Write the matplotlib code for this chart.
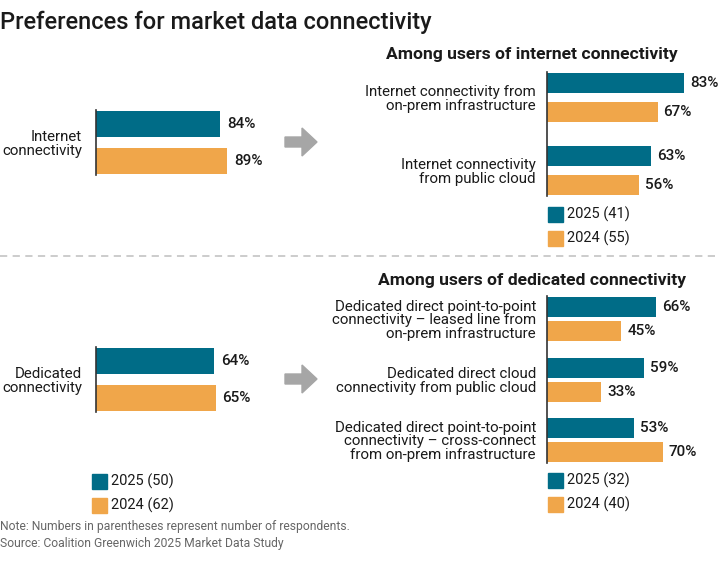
import matplotlib
matplotlib.use("Agg")
import matplotlib.pyplot as plt
from matplotlib.patches import Rectangle, Polygon
from matplotlib.lines import Line2D

plt.rcParams['font.family'] = ['Roboto', 'DejaVu Sans']

# ---------------- data ----------------
title = "Preferences for market data connectivity"

tl_categories = ["Internet\nconnectivity"]
tl_2025 = [84]
tl_2024 = [89]
tl_legend = ["2025 (50)", "2024 (62)"]

tr_title = "Among users of internet connectivity"
tr_categories = ["Internet connectivity from\non-prem infrastructure",
                 "Internet connectivity\nfrom public cloud"]
tr_2025 = [83, 63]
tr_2024 = [67, 56]
tr_legend = ["2025 (41)", "2024 (55)"]

bl_categories = ["Dedicated\nconnectivity"]
bl_2025 = [64]
bl_2024 = [65]
bl_legend = ["2025 (50)", "2024 (62)"]

br_title = "Among users of dedicated connectivity"
br_categories = ["Dedicated direct point-to-point\nconnectivity \u2013 leased line from\non-prem infrastructure",
                 "Dedicated direct cloud\nconnectivity from public cloud",
                 "Dedicated direct point-to-point\nconnectivity \u2013 cross-connect\nfrom on-prem infrastructure"]
br_2025 = [66, 59, 53]
br_2024 = [45, 33, 70]
br_legend = ["2025 (32)", "2024 (40)"]

note_lines = ["Note: Numbers in parentheses represent number of respondents.",
              "Source: Coalition Greenwich 2025 Market Data Study"]

TEAL = "#006C87"
ORANGE = "#F0A64A"
TXT = "#1a1a1a"

W, H = 720, 561
fig = plt.figure(figsize=(W / 100, H / 100), dpi=100)


def fx(x):
    return x / W


def fy(y):
    return 1 - y / H


def panel(cats, v25, v24, axis_x, first_top, bar_h, pair, pitch, scale,
          label_pad, val_off, width_px, fs=10.8):
    n = len(cats)
    last_bottom = first_top + (n - 1) * pitch + pair + bar_h
    top = first_top - 1
    bottom = last_bottom + 1
    ax = fig.add_axes([fx(axis_x), fy(bottom), width_px / W, (bottom - top) / H])
    ax.set_xlim(0, width_px / scale)
    ax.set_ylim(bottom - first_top, top - first_top)
    ys25 = [g * pitch + bar_h / 2 for g in range(n)]
    ys24 = [g * pitch + pair + bar_h / 2 for g in range(n)]
    ax.barh(ys25, v25, height=bar_h, color=TEAL)
    ax.barh(ys24, v24, height=bar_h, color=ORANGE)
    for y, v in list(zip(ys25, v25)) + list(zip(ys24, v24)):
        ax.text(v + val_off / scale, y, f"{v}%", va='center', ha='left',
                fontsize=11, fontweight='medium', color=TXT)
    ax.set_yticks([g * pitch + pair / 2 + bar_h / 2 for g in range(n)])
    ax.set_yticklabels(cats, fontsize=fs, color=TXT, linespacing=0.98)
    ax.tick_params(axis='y', length=0, pad=label_pad)
    ax.set_xticks([])
    for s in ['top', 'right', 'bottom']:
        ax.spines[s].set_visible(False)
    ax.spines['left'].set_color('#333333')
    ax.spines['left'].set_linewidth(1.2)
    ax.set_facecolor('none')
    return ax


def legend(x, y, labels, pitch=23.5):
    for i, (lab, col) in enumerate(zip(labels, [TEAL, ORANGE])):
        yy = y + i * pitch
        fig.patches.append(Rectangle((fx(x), fy(yy + 15)), 15 / W, 15 / H,
                                     transform=fig.transFigure, color=col))
        fig.text(fx(x + 19), fy(yy + 7.5), lab, fontsize=10.5, color=TXT,
                 va='center', ha='left')


def arrow(x0, yc):
    pts = [(x0, yc - 5), (x0 + 17, yc - 5), (x0 + 17, yc - 14),
           (x0 + 32, yc), (x0 + 17, yc + 14), (x0 + 17, yc + 5), (x0, yc + 5)]
    fig.patches.append(Polygon([(fx(a), fy(b)) for a, b in pts], closed=True,
                               transform=fig.transFigure, color='#A6A6A6'))


# Title
fig.text(fx(0), fy(29), title, fontsize=17, fontweight='medium', color=TXT,
         ha='left', va='baseline')

# Top-left
panel(tl_categories, tl_2025, tl_2024, axis_x=96, first_top=111, bar_h=26,
      pair=37, pitch=74, scale=1.476, label_pad=10, val_off=7, width_px=180)
arrow(285, 142)

# Top-right
fig.text(fx(532), fy(59), tr_title, fontsize=12.6, fontweight='bold', color=TXT,
         ha='center', va='baseline')
panel(tr_categories, tr_2025, tr_2024, axis_x=547, first_top=73, bar_h=20,
      pair=29, pitch=73, scale=1.65, label_pad=8, val_off=6, width_px=170)
legend(548, 207, tr_legend)

# Divider
fig.add_artist(Line2D([0, 1], [fy(256), fy(256)], transform=fig.transFigure,
                      color='#C8C8C8', linewidth=1.3, linestyle=(0, (4, 3))))

# Bottom-left
panel(bl_categories, bl_2025, bl_2024, axis_x=96, first_top=348, bar_h=26,
      pair=37, pitch=74, scale=1.84, label_pad=10, val_off=7, width_px=180)
arrow(285, 379)
legend(92, 474, bl_legend)

# Bottom-right
fig.text(fx(532), fy(285), br_title, fontsize=12.6, fontweight='bold', color=TXT,
         ha='center', va='baseline')
panel(br_categories, br_2025, br_2024, axis_x=547, first_top=297, bar_h=20,
      pair=24, pitch=60.5, scale=1.65, label_pad=8, val_off=6, width_px=170)
legend(548, 473, br_legend)

# Notes
for i, line in enumerate(note_lines):
    fig.text(fx(0), fy(530 + i * 17), line, fontsize=8.7, color='#666666',
             ha='left', va='baseline')

fig.savefig("out.png", dpi=100)
